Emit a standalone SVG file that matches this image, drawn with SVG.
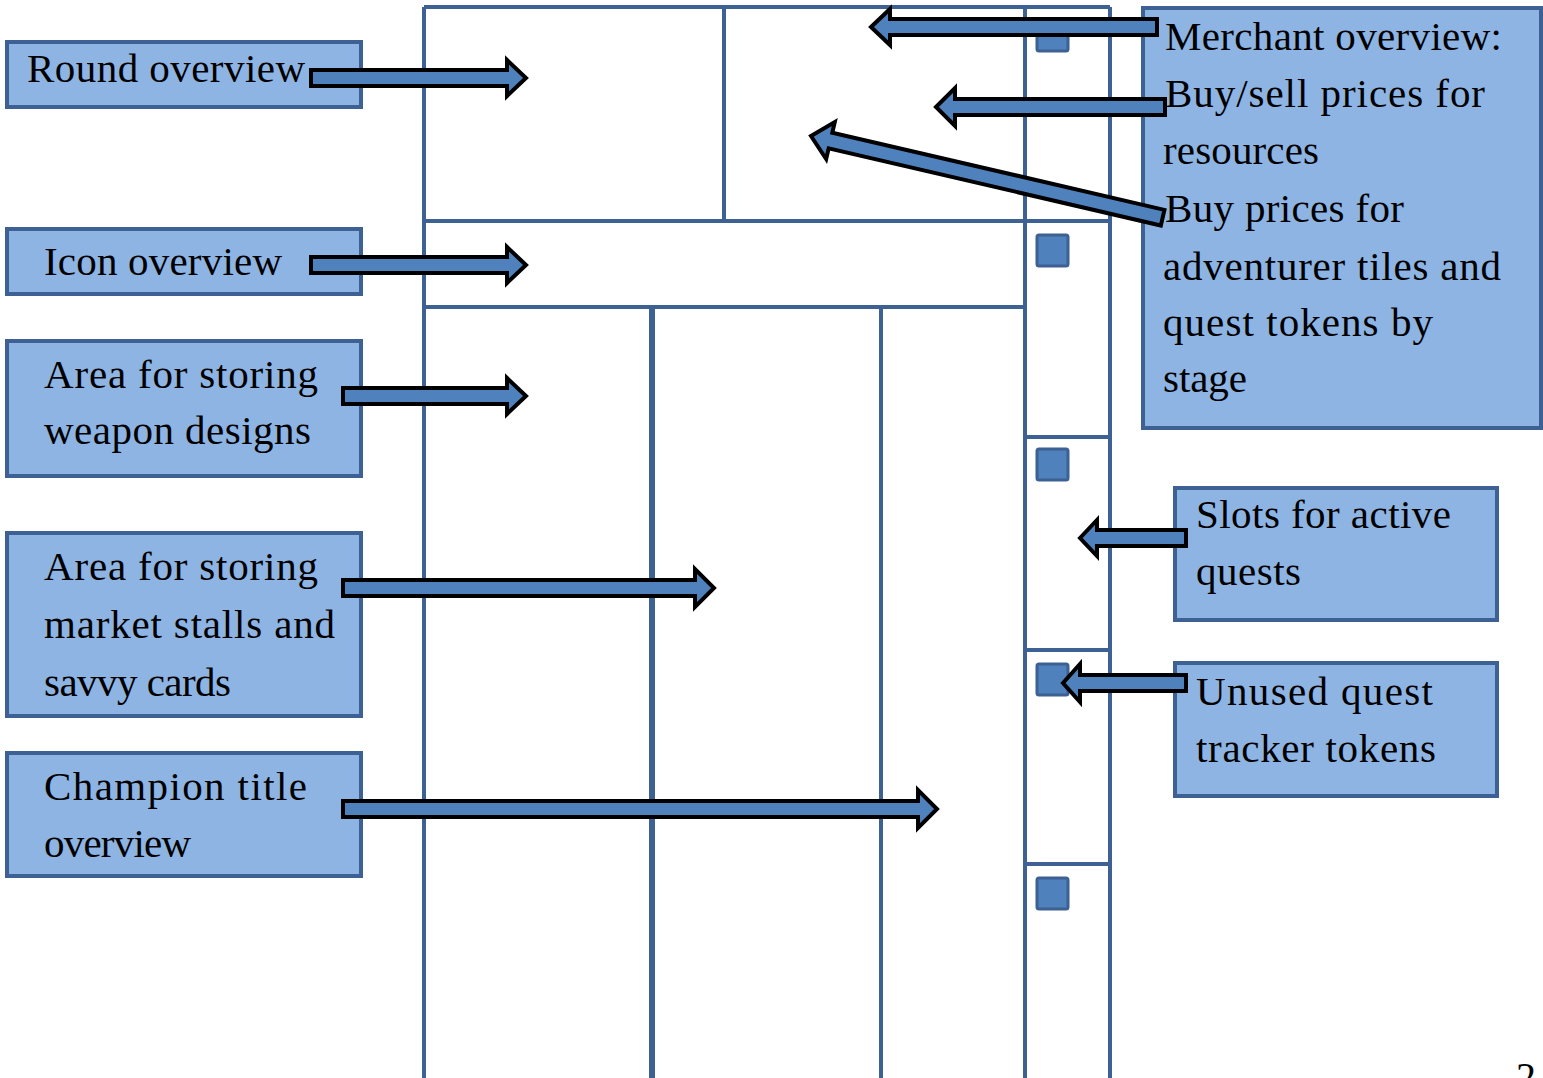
<svg xmlns="http://www.w3.org/2000/svg" width="1543" height="1078" viewBox="0 0 1543 1078">
<style>
.box{fill:#8EB4E3;stroke:#3C6192;stroke-width:4}
.grid{stroke:#3C6192;stroke-width:4;fill:none}
.sq{fill:#4F81BD;stroke:#3C6192;stroke-width:3}
.arr{fill:#4F81BD;stroke:#000;stroke-width:4;stroke-linejoin:miter}
text{font-family:"Liberation Serif","Times New Roman",serif;font-size:41px;fill:#000}
</style>
<rect width="1543" height="1078" fill="#fff"/>
<g id="board">
<path class="grid" d="M424,7 H1110 M424,7 V1078 M724,7 V221 M1025,7 V1078 M1110,7 V1078 M424,221 H1110 M424,307 H1025 M1025,437 H1110 M1025,650 H1110 M1025,864 H1110 M881,307 V1078"/>
<path class="grid" d="M652,307 V1078" style="stroke-width:6"/>
<rect class="sq" x="1037" y="20" width="31" height="31" rx="2"/>
<rect class="sq" x="1037" y="235" width="31" height="31" rx="2"/>
<rect class="sq" x="1037" y="449" width="31" height="31" rx="2"/>
<rect class="sq" x="1037" y="664" width="31" height="31" rx="2"/>
<rect class="sq" x="1037" y="878" width="31" height="31" rx="2"/>
</g>
<g id="round-overview">
<rect class="box" x="7" y="42" width="354" height="65"/>
<text x="27" y="82" textLength="278">Round overview</text>
</g>
<g id="icon-overview">
<rect class="box" x="7" y="229" width="354" height="65"/>
<text x="44" y="275" textLength="238">Icon overview</text>
</g>
<g id="weapon-designs">
<rect class="box" x="7" y="341" width="354" height="135"/>
<text x="44" y="388" textLength="274">Area for storing</text>
<text x="44" y="444" textLength="267">weapon designs</text>
</g>
<g id="market-stalls">
<rect class="box" x="7" y="533" width="354" height="183"/>
<text x="44" y="580" textLength="274">Area for storing</text>
<text x="44" y="638" textLength="291">market stalls and</text>
<text x="44" y="696" textLength="187">savvy cards</text>
</g>
<g id="champion-title">
<rect class="box" x="7" y="753" width="354" height="123"/>
<text x="44" y="800" textLength="263">Champion title</text>
<text x="44" y="857" textLength="147">overview</text>
</g>
<g id="merchant-overview">
<rect class="box" x="1143" y="8" width="398" height="420"/>
<text x="1165" y="50" textLength="337">Merchant overview:</text>
<text x="1165" y="107" textLength="320">Buy/sell prices for</text>
<text x="1163" y="164" textLength="156">resources</text>
<text x="1165" y="222" textLength="239">Buy prices for</text>
<text x="1163" y="280" textLength="338">adventurer tiles and</text>
<text x="1163" y="336" textLength="270">quest tokens by</text>
<text x="1163" y="392" textLength="84">stage</text>
</g>
<g id="active-quests">
<rect class="box" x="1175" y="488" width="322" height="132"/>
<text x="1196" y="528" textLength="255">Slots for active</text>
<text x="1196" y="585" textLength="105">quests</text>
</g>
<g id="unused-tokens">
<rect class="box" x="1175" y="663" width="322" height="133"/>
<text x="1196" y="705" textLength="237">Unused quest</text>
<text x="1196" y="762" textLength="240">tracker tokens</text>
</g>
<g id="connectors">
<polygon class="arr" points="311,70 507,70 507,60 526,78 507,96 507,86 311,86"/>
<polygon class="arr" points="311,257 507,257 507,247 526,265 507,283 507,273 311,273"/>
<polygon class="arr" points="343,388 507,388 507,378 526,396 507,414 507,404 343,404"/>
<polygon class="arr" points="343,580 695,580 695,569 714,588 695,607 695,596 343,596"/>
<polygon class="arr" points="343,801 918,801 918,790 937,809 918,828 918,817 343,817"/>
<polygon class="arr" points="871,27 890,9 890,19 1157,19 1157,35 890,35 890,45"/>
<polygon class="arr" points="936,107 955,88 955,99 1165,99 1165,115 955,115 955,126"/>
<polygon class="arr" transform="translate(811,136) rotate(13.08)" points="0,0 20,-19 20,-8 361,-8 361,8 20,8 20,19"/>
<polygon class="arr" points="1080,538 1097,520 1097,530 1186,530 1186,546 1097,546 1097,556"/>
<polygon class="arr" points="1063,683 1080,664 1080,675 1186,675 1186,691 1080,691 1080,702"/>
</g>
<text x="1516" y="1090" style="font-size:40px">2</text>
</svg>
